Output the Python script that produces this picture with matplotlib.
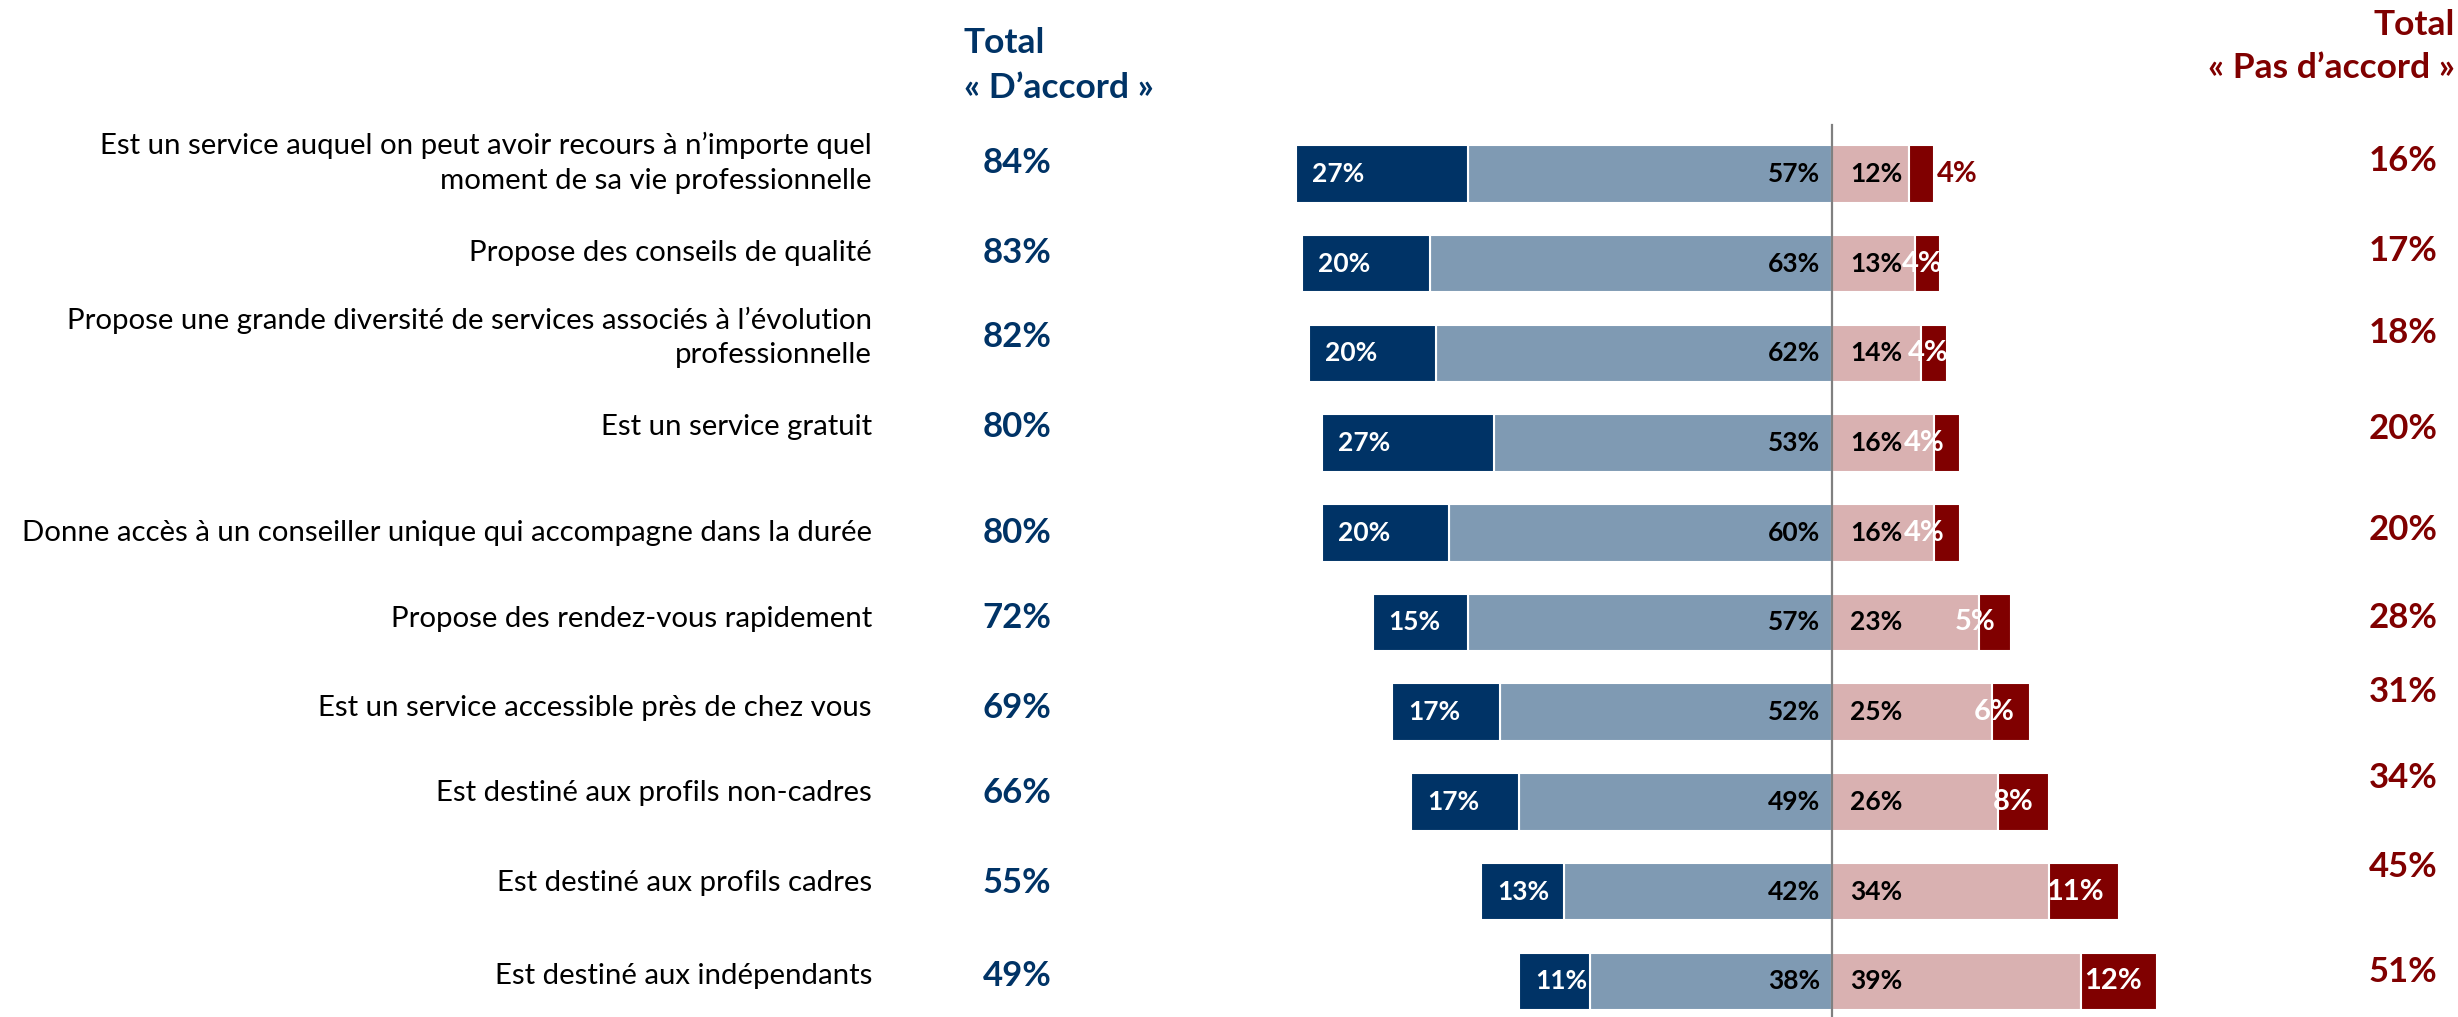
import numpy as np
import matplotlib
matplotlib.use("Agg")
import matplotlib.pyplot as plt

plt.rcParams['font.family'] = ['Lato', 'DejaVu Sans']

# ---------------- data ----------------
categories = [
    "Est un service auquel on peut avoir recours à n’importe quel\nmoment de sa vie professionnelle",
    "Propose des conseils de qualité",
    "Propose une grande diversité de services associés à l’évolution\nprofessionnelle",
    "Est un service gratuit",
    "Donne accès à un conseiller unique qui accompagne dans la durée",
    "Propose des rendez-vous rapidement",
    "Est un service accessible près de chez vous",
    "Est destiné aux profils non-cadres",
    "Est destiné aux profils cadres",
    "Est destiné aux indépendants",
]
tout_a_fait = [27, 20, 20, 27, 20, 15, 17, 17, 13, 11]
plutot_oui = [57, 63, 62, 53, 60, 57, 52, 49, 42, 38]
plutot_pas = [12, 13, 14, 16, 16, 23, 25, 26, 34, 39]
pas_du_tout = [4, 4, 4, 4, 4, 5, 6, 8, 11, 12]
total_accord = [84, 83, 82, 80, 80, 72, 69, 66, 55, 49]
total_pas = [16, 17, 18, 20, 20, 28, 31, 34, 45, 51]

NAVY = "#003366"
LIGHT = "#7F9AB3"
PINK = "#D9B1B1"
DARK_RED = "#800000"

# ---------------- layout (pixels of the 2458x1017 output) ----------------
W, H = 2458, 1017
X0 = 1832          # zero line
PX = 6.38          # pixels per percent
Y0, DY = 174, 89.7 # first row centre, row spacing

fig = plt.figure(figsize=(W / 100, H / 100), dpi=100)
ax = fig.add_axes([0, 0, 1, 1])
ax.set_xlim(-X0 / PX, (W - X0) / PX)
ax.set_ylim((H - Y0) / DY, -Y0 / DY)
ax.axis("off")

y = np.arange(len(categories))
h = 0.64
kw = dict(height=h, edgecolor="white", linewidth=1.5)

neg_light = -np.array(plutot_oui)
neg_dark = neg_light - np.array(tout_a_fait)
ax.barh(y, neg_light, left=0, color=LIGHT, **kw)
ax.barh(y, -np.array(tout_a_fait), left=neg_light, color=NAVY, **kw)
ax.barh(y, plutot_pas, left=0, color=PINK, **kw)
ax.barh(y, pas_du_tout, left=plutot_pas, color=DARK_RED, **kw)

ax.plot([0, 0], [(125 - Y0) / DY, (H - Y0) / DY], color="#808080", lw=1.6, zorder=5)

# text row offsets (px) -- the side texts sit a bit above the bar centres
off_left = [-11, -11, -16, -16, 0, -4, -4, -9, -9, -5]
off_right = [-13, -13, -20, -14, -3, -5, -20, -24, -25, -9]
# shift of the "pas du tout" label relative to bar end (px)
dis_shift = [3, 2, 2, -15, -15, -15, -15, -15, -15, -15]

for i in range(len(categories)):
    yl = i + off_left[i] / DY
    yr = i + off_right[i] / DY
    ax.text((872 - X0) / PX, yl, categories[i], ha="right", va="center",
            fontsize=21.2, color="black", linespacing=1.4)
    ax.text((1017 - X0) / PX, yl, f"{total_accord[i]}%", ha="center", va="center",
            fontsize=25, fontweight="bold", color=NAVY)
    ax.text((2403 - X0) / PX, yr, f"{total_pas[i]}%", ha="center", va="center",
            fontsize=25, fontweight="bold", color=DARK_RED)

    ax.text(neg_dark[i] + 16 / PX, i, f"{tout_a_fait[i]}%", ha="left", va="center",
            fontsize=19, fontweight="bold", color="white")
    ax.text(-12 / PX, i, f"{plutot_oui[i]}%", ha="right", va="center",
            fontsize=19, fontweight="bold", color="black")
    ax.text(18 / PX, i, f"{plutot_pas[i]}%", ha="left", va="center",
            fontsize=19, fontweight="bold", color="black")
    end = plutot_pas[i] + pas_du_tout[i]
    if i == 0:
        ax.text(end + dis_shift[i] / PX, i, f"{pas_du_tout[i]}%", ha="left", va="center",
                fontsize=21, fontweight="bold", color=DARK_RED)
    else:
        ax.text(end + dis_shift[i] / PX, i, f"{pas_du_tout[i]}%", ha="right", va="center",
                fontsize=21, fontweight="bold", color="white", zorder=6)

# column headers
fig.text(964 / W, 1 - 43 / H, "Total", ha="left", va="center",
         fontsize=25.5, fontweight="bold", color=NAVY)
fig.text(964 / W, 1 - 88 / H, "« D’accord »", ha="left", va="center",
         fontsize=25.5, fontweight="bold", color=NAVY)
fig.text(2455 / W, 1 - 25 / H, "Total", ha="right", va="center",
         fontsize=25.5, fontweight="bold", color=DARK_RED)
fig.text(2455 / W, 1 - 68 / H, "« Pas d’accord »", ha="right", va="center",
         fontsize=25.5, fontweight="bold", color=DARK_RED)

fig.savefig("out.png", dpi=100, facecolor="white")
